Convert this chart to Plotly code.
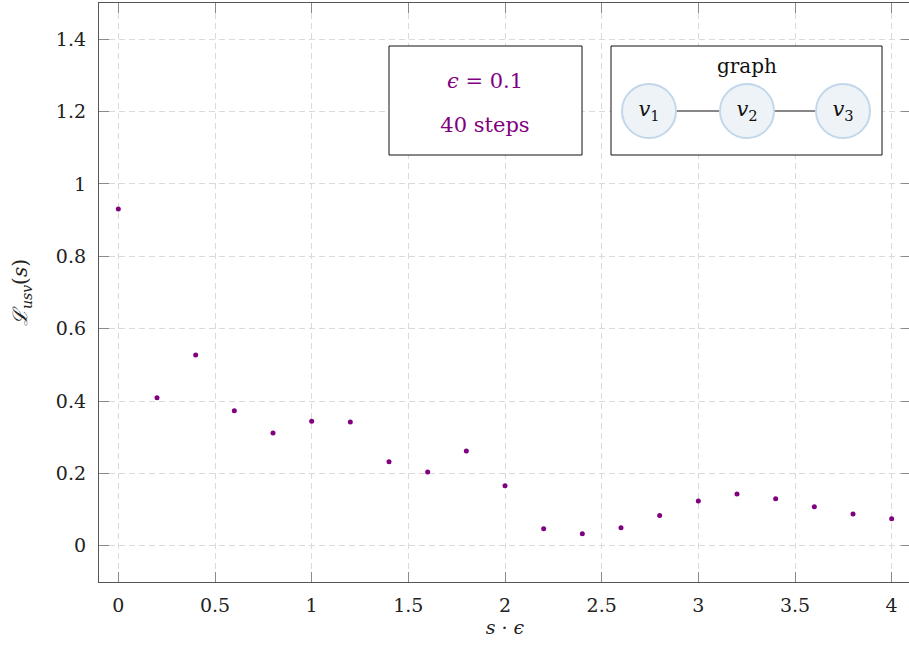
import plotly.graph_objects as go

# data
s_eps = [0.0, 0.2, 0.4, 0.6, 0.8, 1.0, 1.2, 1.4, 1.6, 1.8, 2.0,
         2.2, 2.4, 2.6, 2.8, 3.0, 3.2, 3.4, 3.6, 3.8, 4.0]
loss = [0.931, 0.409, 0.527, 0.373, 0.312, 0.344, 0.342, 0.232, 0.204, 0.262, 0.166,
        0.047, 0.033, 0.050, 0.084, 0.124, 0.143, 0.130, 0.108, 0.088, 0.075]
x_ticks = [0, 0.5, 1, 1.5, 2, 2.5, 3, 3.5, 4]
x_tick_labels = ["0", "0.5", "1", "1.5", "2", "2.5", "3", "3.5", "4"]
y_ticks = [0, 0.2, 0.4, 0.6, 0.8, 1.0, 1.2, 1.4]
y_tick_labels = ["0", "0.2", "0.4", "0.6", "0.8", "1", "1.2", "1.4"]
info_lines = ["<i>ϵ</i> = 0.1", "40 steps"]
graph_title = "graph"
node_labels = ["<i>v</i><sub>1</sub>", "<i>v</i><sub>2</sub>", "<i>v</i><sub>3</sub>"]

W, H = 911, 647
ML, MR, MT, MB = 99, 0, 3, 65
XR = [-0.1, 4.1]
YR = [-0.1, 1.5]
FONT = "DejaVu Serif, serif"
PURPLE = "#800080"

def dx(p):  # pixel -> x data
    return XR[0] + (p - ML) / (W - ML - MR) * (XR[1] - XR[0])

def dy(p):  # pixel -> y data
    return YR[1] - (p - MT) / (H - MT - MB) * (YR[1] - YR[0])

fig = go.Figure()
fig.add_trace(go.Scatter(x=s_eps, y=loss, mode="markers",
                         marker=dict(color=PURPLE, size=5, line=dict(width=0)),
                         showlegend=False, hoverinfo="skip"))

axis_common = dict(showgrid=True, gridcolor="#dadada", griddash="6px,4px", gridwidth=1,
                   zeroline=False, showline=True, linecolor="#555555", linewidth=1.3,
                   ticks="inside", ticklen=10, tickcolor="#8a8a8a", tickwidth=1.3,
                   mirror="ticks", tickfont=dict(family=FONT, size=19, color="#222"))

fig.update_xaxes(range=XR, tickvals=x_ticks, ticktext=x_tick_labels,
                 title=dict(text="<i>s</i> · <i>ϵ</i>", font=dict(family=FONT, size=19, color="#222"),
                            standoff=4),
                 ticklabelstandoff=6, **axis_common)
fig.update_yaxes(range=YR, tickvals=y_ticks, ticktext=y_tick_labels,
                 title=dict(text="<i>ℒ</i><sub><i>usv</i></sub>(<i>s</i>)",
                            font=dict(family=FONT, size=20, color="#222"), standoff=22),
                 ticklabelstandoff=8, **axis_common)

shapes = []
# info box
shapes.append(dict(type="rect", xref="x", yref="y", x0=dx(389), x1=dx(582), y0=dy(46), y1=dy(155),
                   line=dict(color="#111", width=1), fillcolor="white", layer="between"))
# graph box
shapes.append(dict(type="rect", xref="x", yref="y", x0=dx(611), x1=dx(882), y0=dy(46), y1=dy(155),
                   line=dict(color="#111", width=1), fillcolor="white", layer="between"))
centers = [649, 747, 843]
r = 27
cy = 111
for a, b in zip(centers[:-1], centers[1:]):
    shapes.append(dict(type="line", xref="x", yref="y", x0=dx(a + r), x1=dx(b - r),
                       y0=dy(cy), y1=dy(cy), line=dict(color="#111", width=1), layer="between"))
for c in centers:
    shapes.append(dict(type="circle", xref="x", yref="y", x0=dx(c - r), x1=dx(c + r),
                       y0=dy(cy - r), y1=dy(cy + r), line=dict(color="#c3d7ea", width=2),
                       fillcolor="#eef3f8", layer="between"))

fig.add_trace(go.Scatter(x=[dx(485), dx(485)], y=[dy(83), dy(127)], mode="text",
                         text=info_lines, textposition="middle center",
                         textfont=dict(family=FONT, size=21, color=PURPLE),
                         showlegend=False, hoverinfo="skip"))
fig.add_trace(go.Scatter(x=[dx(747)], y=[dy(68)], mode="text",
                         text=[graph_title], textposition="middle center",
                         textfont=dict(family=FONT, size=20, color="#111"),
                         showlegend=False, hoverinfo="skip"))
fig.add_trace(go.Scatter(x=[dx(c) for c in centers], y=[dy(cy)] * 3, mode="text",
                         text=node_labels, textposition="middle center",
                         textfont=dict(family=FONT, size=21, color="#111"),
                         showlegend=False, hoverinfo="skip"))

fig.update_layout(width=W, height=H, margin=dict(l=ML, r=MR, t=MT, b=MB, autoexpand=False),
                  plot_bgcolor="white", paper_bgcolor="white", shapes=shapes)

fig.write_html("out.html", config={"displayModeBar": False},
               post_script="document.body.style.margin='0px';document.body.style.overflow='hidden';"
                           "document.documentElement.style.overflow='hidden';")
